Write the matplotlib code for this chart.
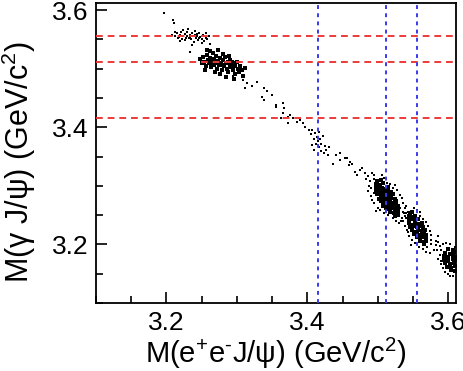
import matplotlib
matplotlib.use("Agg")
import matplotlib.pyplot as plt
from matplotlib.ticker import MultipleLocator

plt.rcParams['font.family'] = ['Liberation Sans', 'DejaVu Sans']
plt.rcParams['mathtext.fontset'] = 'custom'
plt.rcParams['mathtext.rm'] = 'Liberation Sans'
plt.rcParams['mathtext.it'] = 'Liberation Sans:italic'

# chi_cJ masses (GeV/c^2) marked by the dashed lines
chic_masses = [3.415, 3.511, 3.556]

# candidates near M(gamma J/psi) ~ chi_c2
cluster_a = [(3.196, 3.595), (3.210, 3.583), (3.211, 3.578),
             (3.208, 3.558), (3.212, 3.556), (3.215, 3.560), (3.217, 3.553),
             (3.219, 3.557), (3.221, 3.562), (3.222, 3.551), (3.224, 3.555),
             (3.226, 3.559), (3.227, 3.548), (3.229, 3.556), (3.230, 3.563),
             (3.232, 3.553), (3.233, 3.557), (3.235, 3.550), (3.236, 3.560),
             (3.238, 3.555), (3.239, 3.546), (3.241, 3.558), (3.242, 3.552),
             (3.244, 3.556), (3.245, 3.549), (3.247, 3.561), (3.248, 3.554),
             (3.250, 3.551), (3.252, 3.557), (3.254, 3.547), (3.256, 3.553),
             (3.258, 3.550), (3.261, 3.555), (3.223, 3.566), (3.231, 3.568),
             (3.240, 3.565), (3.213, 3.563), (3.250, 3.543), (3.236, 3.541),
             (3.220, 3.547), (3.256, 3.560), (3.233, 3.528), (3.262, 3.542),
             (3.228, 3.553), (3.243, 3.559), (3.218, 3.554), (3.246, 3.553),
             (3.234, 3.554)]

# candidates near M(gamma J/psi) ~ chi_c1
cluster_b = [(3.248, 3.516), (3.250, 3.509), (3.252, 3.520), (3.254, 3.512),
             (3.256, 3.505), (3.257, 3.524), (3.259, 3.515), (3.260, 3.509),
             (3.262, 3.518), (3.263, 3.503), (3.265, 3.512), (3.266, 3.527),
             (3.267, 3.507), (3.268, 3.516), (3.270, 3.510), (3.271, 3.521),
             (3.272, 3.500), (3.274, 3.513), (3.275, 3.506), (3.276, 3.518),
             (3.278, 3.509), (3.279, 3.497), (3.280, 3.514), (3.282, 3.504),
             (3.283, 3.519), (3.284, 3.510), (3.286, 3.500), (3.287, 3.512),
             (3.288, 3.494), (3.290, 3.507), (3.291, 3.515), (3.292, 3.502),
             (3.294, 3.509), (3.295, 3.497), (3.297, 3.505), (3.298, 3.490),
             (3.300, 3.511), (3.301, 3.500), (3.303, 3.494), (3.305, 3.505),
             (3.307, 3.498), (3.309, 3.488), (3.262, 3.530), (3.273, 3.532),
             (3.280, 3.525), (3.255, 3.498), (3.285, 3.486), (3.296, 3.482),
             (3.258, 3.531), (3.269, 3.495), (3.311, 3.501), (3.276, 3.490),
             (3.289, 3.522), (3.265, 3.508), (3.281, 3.507), (3.293, 3.512)]

# sparse band between the clusters
tail = [(3.309, 3.480), (3.315, 3.475), (3.312, 3.467), (3.329, 3.477),
        (3.338, 3.467), (3.336, 3.451), (3.338, 3.446), (3.350, 3.455),
        (3.355, 3.434), (3.365, 3.441), (3.367, 3.432), (3.295, 3.484),
        (3.294, 3.487), (3.355, 3.438), (3.366, 3.424), (3.372, 3.417),
        (3.376, 3.421), (3.380, 3.415), (3.362, 3.415), (3.386, 3.409),
        (3.390, 3.412), (3.394, 3.407), (3.373, 3.407), (3.397, 3.400),
        (3.440, 3.352), (3.447, 3.344), (3.454, 3.347), (3.464, 3.338),
        (3.459, 3.335), (3.447, 3.356), (3.457, 3.347), (3.437, 3.338),
        (3.468, 3.323), (3.471, 3.318), (3.461, 3.340), (3.343, 3.462),
        (3.321, 3.470)]

# small group near M(e+e-J/psi) ~ chi_c0
cluster_c = [(3.402, 3.396), (3.405, 3.388), (3.407, 3.395), (3.409, 3.380),
             (3.411, 3.390), (3.412, 3.372), (3.414, 3.384), (3.415, 3.376),
             (3.416, 3.366), (3.418, 3.380), (3.419, 3.360), (3.420, 3.372),
             (3.422, 3.385), (3.423, 3.356), (3.425, 3.368), (3.427, 3.362),
             (3.429, 3.352), (3.431, 3.366), (3.410, 3.362), (3.417, 3.392),
             (3.406, 3.370)]

# dense group near M(e+e-J/psi) ~ chi_c1: core and halo
core_d = [(3.499, 3.309), (3.504, 3.310),
          (3.498, 3.304), (3.503, 3.302), (3.508, 3.305),
          (3.497, 3.296), (3.502, 3.298), (3.506, 3.297), (3.511, 3.295), (3.515, 3.298),
          (3.497, 3.290), (3.501, 3.292), (3.506, 3.291), (3.510, 3.289), (3.515, 3.292), (3.519, 3.290),
          (3.499, 3.286), (3.504, 3.284), (3.508, 3.286), (3.513, 3.285), (3.517, 3.283), (3.522, 3.286),
          (3.501, 3.278), (3.506, 3.280), (3.510, 3.279), (3.515, 3.277), (3.519, 3.280), (3.524, 3.278),
          (3.504, 3.274), (3.508, 3.272), (3.513, 3.274), (3.517, 3.273), (3.522, 3.271), (3.526, 3.274),
          (3.507, 3.266), (3.512, 3.268), (3.516, 3.267), (3.521, 3.265), (3.526, 3.268), (3.529, 3.266),
          (3.511, 3.262), (3.516, 3.260), (3.520, 3.262), (3.525, 3.261), (3.529, 3.259),
          (3.518, 3.256), (3.523, 3.254), (3.528, 3.256),
          (3.524, 3.249), (3.529, 3.250)]
halo_d = [(3.482, 3.322), (3.486, 3.316), (3.489, 3.309), (3.487, 3.300), (3.490, 3.282),
          (3.486, 3.292), (3.495, 3.311), (3.494, 3.318), (3.509, 3.314), (3.513, 3.305),
          (3.518, 3.303), (3.521, 3.297), (3.527, 3.293), (3.531, 3.284), (3.534, 3.279),
          (3.536, 3.270), (3.538, 3.262), (3.537, 3.253), (3.534, 3.246), (3.533, 3.240),
          (3.521, 3.246), (3.515, 3.250), (3.509, 3.254), (3.503, 3.258), (3.500, 3.263),
          (3.495, 3.270), (3.492, 3.276), (3.526, 3.240), (3.530, 3.236), (3.540, 3.245),
          (3.543, 3.256), (3.478, 3.330), (3.492, 3.322), (3.506, 3.318), (3.497, 3.257),
          (3.524, 3.302), (3.475, 3.327), (3.483, 3.311), (3.491, 3.297), (3.494, 3.287)]

# dense group near M(e+e-J/psi) ~ chi_c2: core and halo
core_e = [(3.545, 3.254), (3.549, 3.255),
          (3.544, 3.249), (3.549, 3.247), (3.553, 3.249),
          (3.544, 3.242), (3.548, 3.244), (3.553, 3.241), (3.557, 3.243),
          (3.544, 3.236), (3.549, 3.234), (3.553, 3.237), (3.558, 3.235), (3.562, 3.236),
          (3.546, 3.230), (3.551, 3.232), (3.555, 3.229), (3.560, 3.231), (3.564, 3.229),
          (3.548, 3.224), (3.553, 3.222), (3.557, 3.225), (3.562, 3.223), (3.567, 3.225),
          (3.551, 3.218), (3.556, 3.220), (3.560, 3.217), (3.565, 3.219), (3.569, 3.217),
          (3.555, 3.212), (3.560, 3.210), (3.564, 3.213), (3.569, 3.211),
          (3.560, 3.206), (3.565, 3.204), (3.569, 3.206), (3.565, 3.200)]
halo_e = [(3.532, 3.262), (3.536, 3.256), (3.538, 3.248), (3.536, 3.240), (3.539, 3.232),
          (3.541, 3.224), (3.544, 3.215), (3.548, 3.208), (3.553, 3.202), (3.558, 3.196),
          (3.564, 3.193), (3.570, 3.196), (3.575, 3.200), (3.576, 3.207), (3.575, 3.216),
          (3.574, 3.223), (3.571, 3.231), (3.568, 3.238), (3.564, 3.244), (3.560, 3.249),
          (3.556, 3.258), (3.551, 3.262), (3.540, 3.253), (3.580, 3.190), (3.583, 3.199),
          (3.574, 3.186), (3.568, 3.188), (3.540, 3.266), (3.529, 3.258), (3.560, 3.255),
          (3.586, 3.205), (3.547, 3.199), (3.585, 3.214), (3.543, 3.221)]

# dense group at the right edge: core and halo
core_f = [(3.600, 3.192), (3.606, 3.190),
          (3.596, 3.186), (3.602, 3.184), (3.608, 3.187),
          (3.594, 3.180), (3.600, 3.178), (3.606, 3.181), (3.611, 3.179),
          (3.594, 3.174), (3.600, 3.172), (3.606, 3.175), (3.611, 3.173),
          (3.596, 3.168), (3.602, 3.166), (3.608, 3.169),
          (3.598, 3.162), (3.604, 3.160), (3.610, 3.163),
          (3.604, 3.156), (3.609, 3.154)]
halo_f = [(3.588, 3.198), (3.590, 3.190), (3.588, 3.182), (3.586, 3.175), (3.589, 3.166),
          (3.592, 3.160), (3.595, 3.153), (3.600, 3.149), (3.606, 3.147), (3.593, 3.200),
          (3.597, 3.203), (3.603, 3.200), (3.584, 3.190), (3.590, 3.171), (3.609, 3.195),
          (3.602, 3.146), (3.583, 3.206)]

fig = plt.figure(figsize=(4.63, 3.71), dpi=100)
ax = fig.add_axes([0.207, 0.183, 0.778, 0.809])

for pts in [tail, cluster_a, cluster_c, halo_d, halo_e, halo_f]:
    xs, ys = zip(*pts)
    ax.scatter(xs, ys, s=2.5, marker='s', c='k', linewidths=0, zorder=2)
for pts in [cluster_b]:
    xs, ys = zip(*pts)
    ax.scatter(xs, ys, s=6, marker='s', c='k', linewidths=0, zorder=2)
for pts in [core_d, core_e, core_f]:
    xs, ys = zip(*pts)
    ax.scatter(xs, ys, s=11, marker='s', c='k', linewidths=0, zorder=2)

for m in chic_masses:
    ax.axhline(m, color='#ee3a3a', lw=1.4, ls=(0, (3.5, 2.5)), zorder=3)
    ax.axvline(m, color='#3a3aee', lw=1.4, ls=(0, (2, 2.2)), zorder=3)

ax.set_xlim(3.1, 3.611)
ax.set_ylim(3.1, 3.612)
ax.xaxis.set_major_locator(MultipleLocator(0.2))
ax.xaxis.set_minor_locator(MultipleLocator(0.05))
ax.yaxis.set_major_locator(MultipleLocator(0.2))
ax.yaxis.set_minor_locator(MultipleLocator(0.05))
ax.tick_params(which='both', direction='in', top=False, right=False,
               labelsize=19, width=1.2)
ax.tick_params(axis='x', which='both', pad=6)
ax.tick_params(axis='y', which='both', pad=5)
ax.tick_params(which='major', length=8)
ax.tick_params(which='minor', length=5)
for sp in ax.spines.values():
    sp.set_linewidth(1.3)

ax.set_xlabel(r'M(e$^{+}$e$^{\text{-}}$J/ψ) (GeV/c$^{2}$)', fontsize=21, labelpad=0)
ax.set_ylabel(r'M(γ J/ψ) (GeV/c$^{2}$)', fontsize=22)
ax.yaxis.set_label_coords(-0.16, 0.47)

fig.savefig('out.png', dpi=100)
